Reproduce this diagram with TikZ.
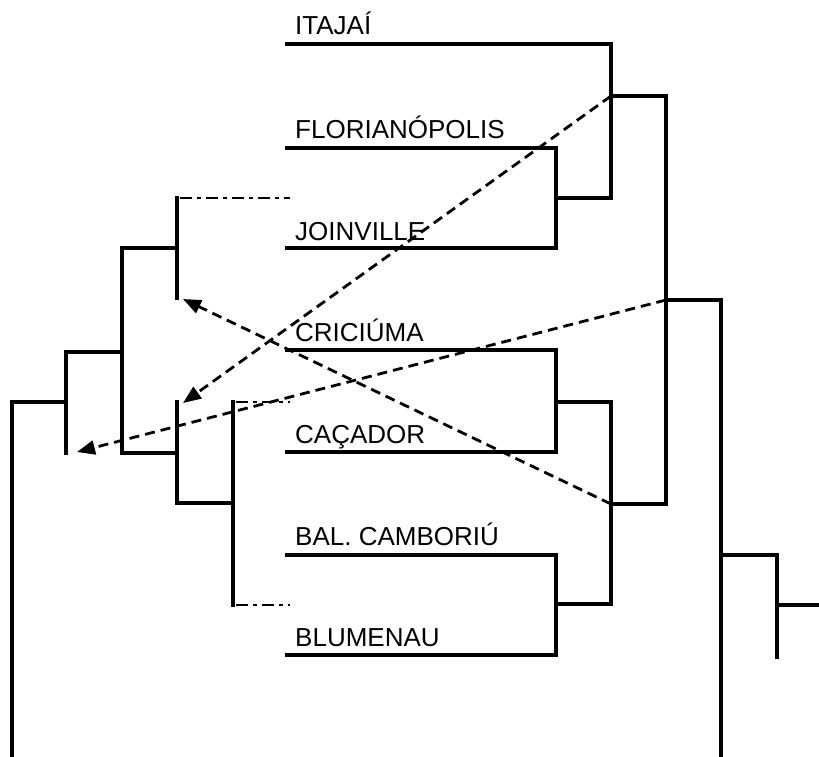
\documentclass[tikz,border=0pt]{standalone}
\usepackage{fontspec}
\setmainfont{Liberation Sans}
\usetikzlibrary{arrows.meta}
\begin{document}
\begin{tikzpicture}[x=1pt,y=-1pt,
  tree/.style={line width=3.4pt,line cap=rect},
  dd/.style={line width=2.2pt,dash pattern=on 12pt off 5pt on 4pt off 5pt},
  dsh/.style={line width=2.8pt,dash pattern=on 10pt off 6pt},
  arr/.style={dsh,-{Triangle[length=18pt,width=14pt]}},
  lab/.style={anchor=base west,inner sep=0pt,font=\fontsize{26}{30}\selectfont}]
\useasboundingbox (0,0) rectangle (819,756);
% labels
\node[lab] (l1) at (295,34) {ITAJAÍ};
\node[lab] (l2) at (295,138) {FLORIANÓPOLIS};
\node[lab] (l3) at (295,240) {JOINVILLE};
\node[lab] (l4) at (295,341) {CRICIÚMA};
\node[lab] (l5) at (295,443) {CAÇADOR};
\node[lab] (l6) at (295,545) {BAL. CAMBORIÚ};
\node[lab] (l7) at (295,646) {BLUMENAU};
% right tree
\coordinate (n1) at (611,96);
\coordinate (n2) at (666,300);
\coordinate (n3) at (611,504);
\draw[tree] (287,44) -- (611,44) -- (611,198) -- (556,198);
\draw[tree] (287,148) -- (556,148) -- (556,248) -- (287,248);
\draw[tree] (287,350) -- (556,350) -- (556,452) -- (287,452);
\draw[tree] (556,402) -- (611,402) -- (611,604) -- (556,604);
\draw[tree] (287,555) -- (556,555) -- (556,655) -- (287,655);
\draw[tree] (n1) -- (666,96) -- (666,504) -- (n3);
\draw[tree] (n2) -- (721,300) -- (721,756);
\draw[tree] (721,555) -- (777,555) -- (777,657);
\draw[tree] (777,605) -- (819,605);
% left tree
\coordinate (m1) at (177,299);
\coordinate (m2) at (177,402);
\coordinate (m3) at (66,453);
\draw[tree] (12,756) -- (12,402) -- (66,402);
\draw[tree] (66,453) -- (66,352) -- (122,352);
\draw[tree] (177,248) -- (122,248) -- (122,453) -- (177,453);
\draw[tree] (177,198) -- (177,298);
\draw[tree] (177,402) -- (177,503) -- (233,503);
\draw[tree] (233,402) -- (233,605);
\draw[dd] (180,198) -- (290,198);
\draw[dd] (236,402) -- (290,402);
\draw[dd] (236,605) -- (290,605);
% arrows
\draw[arr] (n1) -- (183,403);
\draw[arr] (n2) -- (77,452);
\draw[arr] (n3) -- (183,299);
\end{tikzpicture}
\end{document}
